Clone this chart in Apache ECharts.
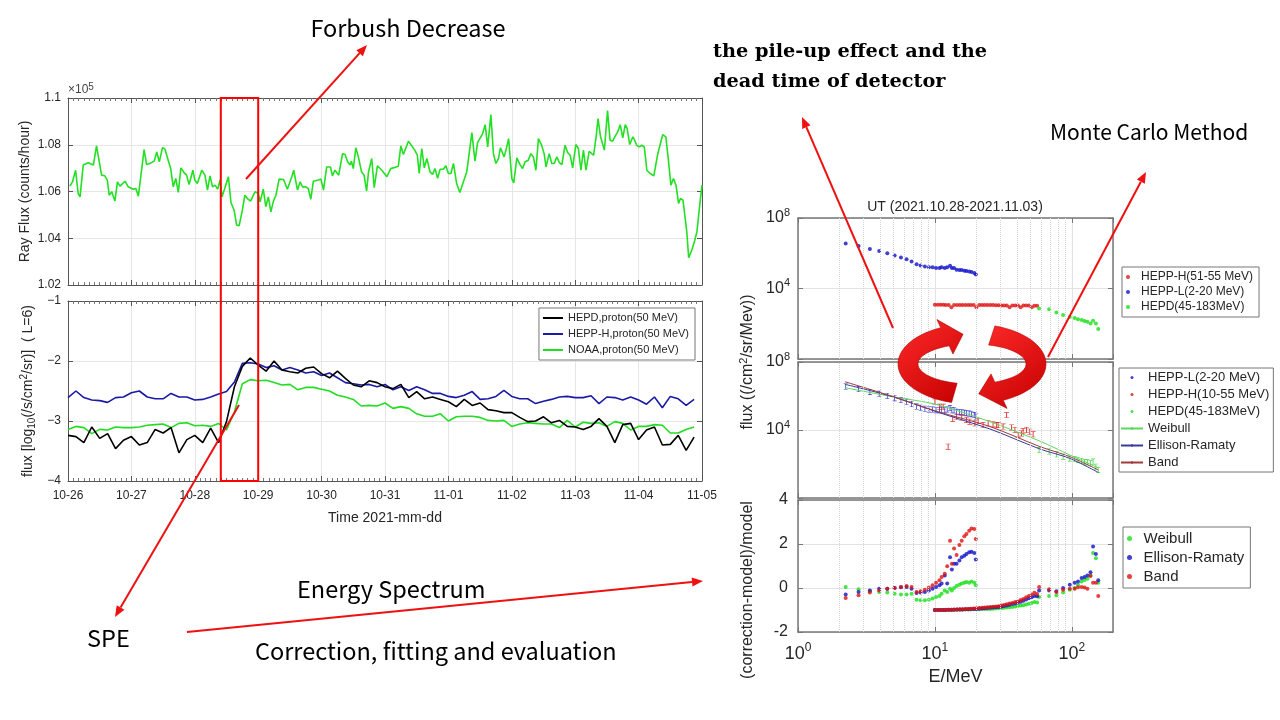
<!DOCTYPE html>
<html>
<head>
<meta charset="utf-8">
<title>Forbush decrease, SPE and energy spectrum</title>
<script src="https://cdn.jsdelivr.net/npm/echarts@6/dist/echarts.min.js"></script>
<style>
  html, body { margin: 0; padding: 0; background: #fff; }
  #main { width: 1280px; height: 720px; }
</style>
</head>
<body>
<div id="main"></div>
<script>
// ---------- time series (left) ----------
const dayLabels = ['10-26', '10-27', '10-28', '10-29', '10-30', '10-31', '11-01', '11-02', '11-03', '11-04', '11-05']
// ray flux, days since 10-26 00:00 and value in units of 10^5 counts/hour
const rayDays = [0.03, 0.07, 0.12, 0.16, 0.19, 0.24, 0.32, 0.40, 0.45, 0.53, 0.58, 0.62, 0.65, 0.69, 0.74, 0.78, 0.82, 0.90, 0.95,
  1.03, 1.07, 1.11, 1.20, 1.24, 1.29, 1.36, 1.40, 1.44, 1.49, 1.53, 1.58, 1.62, 1.66, 1.70, 1.74, 1.78, 1.83, 1.87, 1.91, 1.97,
  2.00, 2.04, 2.11, 2.16, 2.20, 2.24, 2.28, 2.32, 2.36, 2.40, 2.43, 2.48, 2.53, 2.57, 2.62, 2.66, 2.70, 2.75, 2.79, 2.83, 2.88, 2.95,
  3.00, 3.03, 3.08, 3.12, 3.16, 3.20, 3.24, 3.28, 3.33, 3.40, 3.43, 3.46, 3.53, 3.56, 3.62, 3.66, 3.70, 3.75, 3.79, 3.83, 3.87, 3.95, 3.99,
  4.03, 4.08, 4.14, 4.17, 4.21, 4.24, 4.27, 4.33, 4.37, 4.41, 4.45, 4.47, 4.50, 4.54, 4.58, 4.63, 4.67, 4.71, 4.74, 4.79, 4.83, 4.88, 4.95,
  5.03, 5.09, 5.13, 5.21, 5.25, 5.29, 5.37, 5.40, 5.47, 5.51, 5.54, 5.58, 5.62, 5.66, 5.71, 5.75, 5.79, 5.83, 5.87, 5.92, 5.96,
  6.00, 6.04, 6.08, 6.13, 6.18, 6.21, 6.29, 6.37, 6.42, 6.46, 6.49, 6.54, 6.58, 6.62, 6.67, 6.71, 6.75, 6.79, 6.82, 6.88, 6.92, 6.95,
  7.00, 7.03, 7.08, 7.13, 7.17, 7.21, 7.26, 7.30, 7.34, 7.38, 7.42, 7.47, 7.51, 7.54, 7.59, 7.63, 7.67, 7.71, 7.75, 7.79, 7.84, 7.88, 7.92, 7.96,
  8.01, 8.05, 8.09, 8.13, 8.17, 8.22, 8.24, 8.29, 8.33, 8.36, 8.40, 8.46, 8.51, 8.55, 8.59, 8.64, 8.67, 8.71, 8.75, 8.79, 8.82, 8.86, 8.91, 8.93, 8.97,
  9.01, 9.05, 9.09, 9.13, 9.18, 9.24, 9.30, 9.38, 9.43, 9.47, 9.51, 9.55, 9.59, 9.63, 9.66, 9.70, 9.76, 9.79, 9.84, 9.88, 9.92, 9.97, 10.00]
const rayFlux = [1.0623, 1.0641, 1.0691, 1.0592, 1.0577, 1.0713, 1.0723, 1.0713, 1.0795, 1.0670, 1.0667, 1.0649, 1.0584, 1.0599, 1.0559, 1.0641, 1.0623, 1.0644, 1.0620,
  1.0610, 1.0613, 1.0580, 1.0779, 1.0715, 1.0720, 1.0730, 1.0769, 1.0727, 1.0788, 1.0781, 1.0734, 1.0698, 1.0620, 1.0656, 1.0596, 1.0701, 1.0681, 1.0670, 1.0630, 1.0691,
  1.0649, 1.0634, 1.0691, 1.0670, 1.0606, 1.0667, 1.0620, 1.0627, 1.0610, 1.0649, 1.0577, 1.0620, 1.0663, 1.0553, 1.0520, 1.0456, 1.0454, 1.0520, 1.0584, 1.0570, 1.0559, 1.0599,
  1.0592, 1.0556, 1.0610, 1.0535, 1.0577, 1.0513, 1.0559, 1.0584, 1.0653, 1.0651, 1.0656, 1.0610, 1.0663, 1.0691, 1.0606, 1.0641, 1.0620, 1.0620, 1.0613, 1.0567, 1.0644, 1.0649, 1.0653,
  1.0606, 1.0705, 1.0705, 1.0667, 1.0691, 1.0698, 1.0670, 1.0762, 1.0758, 1.0727, 1.0713, 1.0730, 1.0698, 1.0787, 1.0748, 1.0684, 1.0670, 1.0602, 1.0684, 1.0741, 1.0616, 1.0710, 1.0691,
  1.0663, 1.0698, 1.0701, 1.0708, 1.0795, 1.0758, 1.0815, 1.0809, 1.0777, 1.0755, 1.0677, 1.0784, 1.0701, 1.0741, 1.0684, 1.0673, 1.0698, 1.0656, 1.0695, 1.0695, 1.0710,
  1.0677, 1.0677, 1.0720, 1.0634, 1.0596, 1.0592, 1.0684, 1.0852, 1.0730, 1.0809, 1.0805, 1.0848, 1.0886, 1.0791, 1.0929, 1.0762, 1.0720, 1.0741, 1.0787, 1.0748, 1.0791, 1.0826,
  1.0656, 1.0637, 1.0744, 1.0715, 1.0698, 1.0727, 1.0734, 1.0762, 1.0748, 1.0691, 1.0826, 1.0798, 1.0762, 1.0705, 1.0762, 1.0720, 1.0720, 1.0748, 1.0724, 1.0715, 1.0798, 1.0767, 1.0755, 1.0701,
  1.0801, 1.0784, 1.0691, 1.0777, 1.0691, 1.0772, 1.0777, 1.0755, 1.0834, 1.0912, 1.0834, 1.0777, 1.0946, 1.0819, 1.0815, 1.0841, 1.0855, 1.0886, 1.0829, 1.0886, 1.0869, 1.0801, 1.0834, 1.0824, 1.0798,
  1.0791, 1.0798, 1.0791, 1.0691, 1.0677, 1.0667, 1.0758, 1.0843, 1.0834, 1.0734, 1.0627, 1.0656, 1.0627, 1.0549, 1.0570, 1.0563, 1.0428, 1.0317, 1.0350, 1.0385, 1.0428, 1.0556, 1.0627]

// 50 MeV proton flux, log10(/s/cm2/sr), 3-hour samples from 10-26 00:00
const fluxStepDays = 0.125
const hepdProton = [-3.24, -3.26, -3.36, -3.10, -3.29, -3.21, -3.46, -3.32, -3.26, -3.40,
  -3.36, -3.14, -3.20, -3.11, -3.53, -3.31, -3.24, -3.36, -3.12, -3.36,
  -3.01, -2.43, -2.09, -1.95, -2.07, -2.17, -2.00, -2.15, -2.18, -2.20,
  -2.12, -2.10, -2.21, -2.28, -2.17, -2.29, -2.40, -2.43, -2.33, -2.36,
  -2.43, -2.46, -2.39, -2.61, -2.51, -2.63, -2.60, -2.64, -2.68, -2.76,
  -2.64, -2.74, -2.70, -2.81, -2.83, -2.86, -2.86, -2.94, -3.01, -3.00,
  -2.93, -3.03, -2.99, -3.09, -3.10, -3.14, -3.09, -2.96, -3.09, -3.36,
  -3.06, -3.04, -3.31, -3.15, -3.10, -3.40, -3.39, -3.24, -3.49, -3.27]
const heppHProton = [-2.61, -2.50, -2.61, -2.65, -2.66, -2.69, -2.61, -2.60, -2.53, -2.50,
  -2.60, -2.63, -2.63, -2.54, -2.60, -2.60, -2.65, -2.64, -2.60, -2.55,
  -2.51, -2.35, -2.04, -2.03, -2.05, -2.11, -2.08, -2.15, -2.11, -2.15,
  -2.20, -2.18, -2.24, -2.20, -2.28, -2.36, -2.38, -2.40, -2.39, -2.43,
  -2.39, -2.48, -2.43, -2.49, -2.43, -2.48, -2.54, -2.54, -2.59, -2.61,
  -2.57, -2.51, -2.64, -2.63, -2.59, -2.49, -2.59, -2.63, -2.63, -2.71,
  -2.67, -2.64, -2.60, -2.59, -2.61, -2.61, -2.58, -2.71, -2.60, -2.61,
  -2.65, -2.60, -2.65, -2.72, -2.60, -2.78, -2.59, -2.63, -2.74, -2.64]
const noaaProton = [-3.14, -3.09, -3.11, -3.21, -3.14, -3.15, -3.10, -3.11, -3.11, -3.10,
  -3.07, -3.06, -3.05, -3.11, -3.04, -3.03, -3.08, -3.07, -3.09, -3.04,
  -3.15, -2.85, -2.38, -2.31, -2.33, -2.32, -2.36, -2.40, -2.39, -2.48,
  -2.44, -2.44, -2.47, -2.50, -2.57, -2.60, -2.64, -2.75, -2.74, -2.75,
  -2.70, -2.79, -2.76, -2.79, -2.88, -2.92, -2.92, -2.88, -3.00, -2.93,
  -2.92, -2.92, -2.94, -2.99, -3.00, -2.99, -3.09, -3.05, -3.03, -3.04,
  -3.05, -3.05, -3.11, -2.99, -3.10, -3.02, -3.04, -3.03, -3.09, -3.01,
  -3.04, -3.15, -3.09, -3.09, -3.06, -3.07, -3.20, -3.20, -3.14, -3.10]
const speWindow = [2.41, 3.0] // days since 10-26

// ---------- energy spectra (right), E in MeV, flux in /cm2/sr/MeV ----------
const hepplE = [2.23, 2.77, 3.35, 3.92, 4.49, 5.08, 5.65, 6.21, 6.76, 7.35, 7.86, 8.45, 9.04, 9.62, 10.2, 10.8,
  11.2, 11.8, 12.3, 12.9, 13.3, 13.8, 14.4, 15.1, 15.7, 16.4, 17.0, 17.8, 18.5, 19.4, 19.9]
const hepplFlux = [3.63e6, 2.57e6, 1.74e6, 1.35e6, 1.0e6, 7.41e5, 5.75e5, 4.57e5, 3.39e5, 2.4e5, 2.04e5, 1.78e5, 1.62e5, 1.58e5, 1.45e5, 1.45e5,
  1.58e5, 1.45e5, 1.62e5, 1.95e5, 1.45e5, 1.45e5, 1.17e5, 1.12e5, 1.12e5, 1.02e5, 9.8e4, 9.3e4, 8.5e4, 7.6e4, 6.2e4]
const hepphE = [10.0, 10.5, 11.0, 11.5, 12.0, 12.6, 13.2, 13.8, 14.5, 15.2, 15.9, 16.7, 17.5, 18.3, 19.2, 20.1, 21.1, 22.1, 23.1,
  24.2, 25.4, 26.6, 27.9, 29.2, 30.6, 32.0, 33.5, 35.1, 36.8, 38.6, 40.4, 42.3, 44.3, 46.4, 48.6, 50.9, 53.3, 55.8]
const hepphFlux = [1200, 1200, 1190, 1180, 1150, 1150, 860, 1140, 1140, 1140, 1140, 1140, 1140, 1140, 1140, 860, 1140, 1140, 1150,
  1150, 1140, 1140, 1120, 1120, 1100, 1100, 1100, 860, 1100, 1080, 1080, 860, 1080, 1070, 1070, 860, 1060, 1060]
const hepdE = [57.7, 68.3, 77.2, 86.4, 96.7, 105, 111, 118, 124, 130, 137, 143, 150, 156]
const hepdFlux = [724, 661, 437, 316, 245, 209, 182, 162, 141, 129, 105, 148, 105, 50]

// corrected spectra and fits
const hepphCorrE = [10.0, 10.8, 11.5, 12.5, 13.5, 14.4, 15.7, 17.0, 18.0, 19.6, 20.7, 22.5, 24.5, 26.6, 28.2, 29.0,
  31.5, 33.4, 36.3, 38.4, 40.6, 42.9, 44.1, 46.7, 49.3, 52.2]
const hepphCorrFlux = [4.7e5, 2.3e5, 2.3e5, 1.05e3, 4.5e4, 6.0e4, 5.4e4, 3.9e4, 3.1e4, 2.5e4, 3.4e4, 1.95e4, 2.5e4, 2.2e4, 1.95e4, 1.95e4,
  1.6e4, 7.6e4, 1.4e4, 1.0e4, 5.1e3, 6.3e3, 8.7e3, 1.0e4, 7.9e3, 5.6e3]
const hepdCorrFlux = [661, 537, 372, 269, 214, 195, 174, 151, 126, 126, 110, 138, 69, 45]
const fitE = [2.2, 4.9, 10.2, 25.2, 58.6, 96.7, 156]
const weibullFit = [3.1e6, 9.1e5, 3.2e5, 3.1e4, 2.2e3, 339, 60]
const ellisonFit = [4.9e6, 9.1e5, 1.2e5, 1.15e4, 759, 214, 32]
const bandFit = [6.9e6, 9.5e5, 1.3e5, 1.6e4, 1.05e3, 269, 45]

// (correction-model)/model
const resHepplWeibull = [0.05, -0.06, -0.15, -0.18, -0.21, -0.26, -0.29, -0.29, -0.26, -0.53, -0.56, -0.56, -0.53, -0.48, -0.41, -0.36,
  -0.26, -0.11, -0.18, -0.03, -0.11, 0.00, 0.09, 0.15, 0.20, 0.24, 0.27, 0.24, 0.30, 0.24, 0.12]
const resHepplEllison = [-0.29, -0.18, -0.11, -0.03, -0.03, 0.00, 0.03, 0.05, -0.03, -0.23, -0.21, -0.18, -0.11, -0.03, 0.05, 0.12,
  0.20, 0.57, 0.20, 1.40, 0.84, 1.10, 1.10, 1.25, 1.40, 1.47, 1.55, 1.62, 1.65, 1.59, 1.29]
const resHepplBand = [-0.45, -0.33, -0.21, -0.11, -0.03, 0.00, 0.05, 0.09, 0.05, -0.18, -0.15, -0.08, 0.02, 0.12, 0.24, 0.35,
  0.50, 0.65, 0.99, 2.15, 1.10, 1.80, 1.50, 1.95, 2.15, 2.35, 2.45, 2.60, 2.71, 2.68, 2.23]
const resHepphWeibull = [-1.00, -1.00, -1.00, -1.00, -1.00, -1.00, -1.00, -0.99, -0.99, -0.99, -0.99, -0.98, -0.98, -0.98, -0.97, -0.97, -0.97, -0.96, -0.96,
  -0.95, -0.95, -0.94, -0.93, -0.92, -0.91, -0.90, -0.89, -0.88, -0.86, -0.84, -0.82, -0.80, -0.78, -0.75, -0.72, -0.68, -0.64, -0.66]
const resHepphEllison = [-1.00, -1.00, -1.00, -1.00, -1.00, -0.99, -0.99, -0.99, -0.98, -0.98, -0.98, -0.97, -0.97, -0.96, -0.95, -0.95, -0.94, -0.93, -0.92,
  -0.91, -0.90, -0.89, -0.88, -0.86, -0.84, -0.82, -0.79, -0.76, -0.73, -0.70, -0.66, -0.62, -0.58, -0.52, -0.47, -0.42, -0.36, -0.38]
const resHepphBand = [-1.00, -1.00, -1.00, -1.00, -0.99, -0.99, -0.99, -0.98, -0.98, -0.97, -0.97, -0.96, -0.95, -0.94, -0.93, -0.92, -0.91, -0.90, -0.89,
  -0.88, -0.86, -0.85, -0.84, -0.83, -0.80, -0.77, -0.74, -0.71, -0.68, -0.64, -0.61, -0.55, -0.50, -0.42, -0.36, -0.30, -0.22, -0.27]
const resHepdWeibull = [-0.41, -0.36, -0.33, -0.21, -0.08, 0.00, 0.15, 0.30, 0.36, 0.42, 0.57, 1.59, 1.35, 0.24]
const resHepdEllison = [-0.11, -0.11, -0.15, 0.00, 0.15, 0.24, 0.30, 0.45, 0.50, 0.57, 0.72, 1.89, 1.55, 0.35]
const resHepdBand = [0.05, -0.06, -0.18, -0.08, -0.03, -0.03, 0.03, 0.05, 0.02, -0.03, 0.54, 0.24, 0.24, -0.36]

// grid lines of the log energy axis between the decades
const minorE = [2, 3, 4, 5, 6, 7, 8, 9, 20, 30, 40, 50, 60, 70, 80, 90]

// ---------- helpers ----------
const FONT = 'Liberation Sans'
const TXT = '#262626'
const AX = '#555'
const RED = '#ee1111'
const zip = (xs, ys) => xs.map((x, i) => [x, ys[i]])
const steps = (ys) => ys.map((y, i) => [i * fluxStepDays, y])

function logLabel(v) {
  const l = Math.log10(v)
  const e = Math.round(l)
  if (Math.abs(l - e) > 1e-6) return ''
  return '10{sup|' + e + '}'
}

function dayAxis(gridIndex, position, labels) {
  return {
    type: 'value', gridIndex, position, min: 0, max: 10, interval: 1,
    axisLine: { show: true, onZero: false, lineStyle: { color: AX, width: 1 } },
    axisTick: { show: true, inside: true, length: 5, lineStyle: { color: AX } },
    minorTick: { show: true, splitNumber: 12, length: 3, lineStyle: { color: '#777' } },
    axisLabel: { show: labels, color: TXT, fontSize: 12, fontFamily: FONT, margin: 9, formatter: (v) => dayLabels[Math.round(v)] },
    splitLine: { show: position === 'bottom', lineStyle: { color: '#e6e6e6' } },
    name: labels ? 'Time 2021-mm-dd' : '', nameLocation: 'middle', nameGap: 30,
    nameTextStyle: { color: TXT, fontSize: 14, fontFamily: FONT },
  }
}

function leftValueAxis(gridIndex, position, min, max, interval, formatter, name) {
  return {
    type: 'value', gridIndex, position, min, max, interval,
    axisLine: { show: true, onZero: false, lineStyle: { color: AX, width: 1 } },
    axisTick: { show: true, inside: true, length: 5, lineStyle: { color: AX } },
    axisLabel: { show: position === 'left', color: TXT, fontSize: 12, fontFamily: FONT, margin: 7, formatter },
    splitLine: { show: position === 'left', lineStyle: { color: '#e6e6e6' } },
    name: position === 'left' ? name : '', nameLocation: 'middle', nameGap: 31,
    nameTextStyle: {
      color: TXT, fontSize: 14, fontFamily: FONT, lineHeight: 18,
      rich: {
        sub: { fontSize: 10, fontFamily: FONT, color: TXT, verticalAlign: 'bottom', lineHeight: 10 },
        sup: { fontSize: 10, fontFamily: FONT, color: TXT, verticalAlign: 'top', lineHeight: 10 },
      },
    },
  }
}

function energyAxis(gridIndex, position, labels) {
  return {
    type: 'log', logBase: 10, gridIndex, position, min: 1, max: 200,
    axisLine: { show: true, onZero: false, lineStyle: { color: '#777', width: 1.5 } },
    axisTick: { show: true, inside: true, length: 5, lineStyle: { color: '#777' } },
    axisLabel: {
      show: labels, color: TXT, fontSize: 18, fontFamily: FONT, margin: 10, lineHeight: 24,
      showMaxLabel: false, formatter: logLabel,
      rich: { sup: { fontSize: 12, fontFamily: FONT, color: TXT, verticalAlign: 'top', lineHeight: 12 } },
    },
    splitLine: { show: position === 'bottom', lineStyle: { color: '#e3e3e3' } },
  }
}

function fluxAxis(gridIndex, position) {
  return {
    type: 'log', logBase: 10, gridIndex, position, min: 1, max: 1e8, interval: 4,
    axisLine: { show: true, onZero: false, lineStyle: { color: '#777', width: 1.5 } },
    axisTick: { show: true, inside: true, length: 5, lineStyle: { color: '#777' } },
    axisLabel: {
      show: position === 'left', color: TXT, fontSize: 16, fontFamily: FONT, margin: 8, lineHeight: 22,
      formatter: (v) => (v <= 1 ? '' : logLabel(v)),
      rich: { sup: { fontSize: 11, fontFamily: FONT, color: TXT, verticalAlign: 'top', lineHeight: 11 } },
    },
    splitLine: { show: position === 'left', lineStyle: { color: '#e3e3e3' } },
  }
}

function residualAxis(gridIndex, position) {
  return {
    type: 'value', gridIndex, position, min: -2, max: 4, interval: 2,
    axisLine: { show: true, onZero: false, lineStyle: { color: '#777', width: 1.5 } },
    axisTick: { show: true, inside: true, length: 5, lineStyle: { color: '#777' } },
    axisLabel: { show: position === 'left', color: TXT, fontSize: 16, fontFamily: FONT, margin: 10 },
    splitLine: { show: position === 'left', lineStyle: { color: '#e3e3e3' } },
  }
}

// dotted vertical lines at 2..9, 20..90 MeV
function minorGridSeries(g) {
  return {
    type: 'line', data: [], xAxisIndex: 2 * g, yAxisIndex: 2 * g, silent: true, z: 1,
    markLine: {
      silent: true, symbol: 'none', animation: false, label: { show: false },
      lineStyle: { color: '#d4d4d4', type: 'dotted', width: 1 },
      data: minorE.map((e) => ({ xAxis: e })),
    },
  }
}

const ibeam = 'path://M0,0H5V1H3V9H5V10H0V9H2V1H0Z'

const chart = echarts.init(document.getElementById('main'))

chart.setOption({
  animation: false,
  backgroundColor: '#fff',
  textStyle: { fontFamily: FONT },
  grid: [
    { left: 68, top: 98, width: 634, height: 187, outerBoundsMode: 'none' },
    { left: 68, top: 301, width: 634, height: 180, outerBoundsMode: 'none' },
    { left: 798, top: 218, width: 315, height: 141, outerBoundsMode: 'none' },
    { left: 798, top: 362, width: 315, height: 136, outerBoundsMode: 'none' },
    { left: 798, top: 500, width: 315, height: 132, outerBoundsMode: 'none' },
  ],
  xAxis: [
    dayAxis(0, 'bottom', false), dayAxis(0, 'top', false),
    dayAxis(1, 'bottom', true), dayAxis(1, 'top', false),
    energyAxis(2, 'bottom', false), energyAxis(2, 'top', false),
    energyAxis(3, 'bottom', false), energyAxis(3, 'top', false),
    Object.assign(energyAxis(4, 'bottom', true), {
      name: 'E/MeV', nameLocation: 'middle', nameGap: 36,
      nameTextStyle: { color: TXT, fontSize: 18, fontFamily: FONT },
    }),
    energyAxis(4, 'top', false),
  ],
  yAxis: [
    leftValueAxis(0, 'left', 1.02, 1.1, 0.02, (v) => String(+v.toFixed(2)), 'Ray Flux (counts/hour)'),
    leftValueAxis(0, 'right', 1.02, 1.1, 0.02, null, ''),
    leftValueAxis(1, 'left', -4, -1, 1, (v) => String(v).replace('-', '\u2212'),
      'flux [log{sub|10}(/s/cm{sup|2}/sr)]  ( L=6)'),
    leftValueAxis(1, 'right', -4, -1, 1, null, ''),
    fluxAxis(2, 'left'), fluxAxis(2, 'right'),
    fluxAxis(3, 'left'), fluxAxis(3, 'right'),
    residualAxis(4, 'left'), residualAxis(4, 'right'),
  ],
  legend: [
    {
      data: [
        { name: 'HEPD,proton(50 MeV)', icon: 'rect' },
        { name: 'HEPP-H,proton(50 MeV)', icon: 'rect' },
        { name: 'NOAA,proton(50 MeV)', icon: 'rect' },
      ],
      orient: 'vertical', right: 585, top: 308, itemWidth: 20, itemHeight: 2, itemGap: 4,
      padding: [4, 6, 4, 4], backgroundColor: '#fff', borderColor: '#777', borderWidth: 1, borderRadius: 0,
      textStyle: { color: TXT, fontSize: 11, fontFamily: FONT, lineHeight: 12 },
    },
    {
      data: [
        { name: 'HEPP-H(51-55 MeV)', icon: 'circle' },
        { name: 'HEPP-L(2-20 MeV)', icon: 'circle' },
        { name: 'HEPD(45-183MeV)', icon: 'circle' },
      ],
      orient: 'vertical', left: 1122, top: 267, itemWidth: 16, itemHeight: 4, itemGap: 3,
      padding: [4, 6, 4, 4], backgroundColor: '#fff', borderColor: '#777', borderWidth: 1, borderRadius: 0,
      textStyle: { color: TXT, fontSize: 12, fontFamily: FONT },
    },
    {
      data: [
        { name: 'HEPP-L(2-20 MeV)', icon: 'circle' },
        { name: 'HEPP-H(10-55 MeV)', icon: 'circle' },
        { name: 'HEPD(45-183MeV)', icon: 'circle' },
        'Weibull fit', 'Ellison-Ramaty fit', 'Band fit',
      ],
      formatter: (n) => n.replace(' fit', ''),
      orient: 'vertical', left: 1119, top: 368, itemWidth: 22, itemHeight: 3, itemGap: 4,
      padding: [3, 4, 3, 1], backgroundColor: '#fff', borderColor: '#777', borderWidth: 1, borderRadius: 0,
      textStyle: { color: TXT, fontSize: 13, fontFamily: FONT },
    },
    {
      data: [
        { name: 'Weibull', icon: 'circle' },
        { name: 'Ellison-Ramaty', icon: 'circle' },
        { name: 'Band', icon: 'circle' },
      ],
      orient: 'vertical', left: 1123, top: 527, itemWidth: 18, itemHeight: 5, itemGap: 4,
      padding: [4, 6, 4, 4], backgroundColor: '#fff', borderColor: '#777', borderWidth: 1, borderRadius: 0,
      textStyle: { color: TXT, fontSize: 15, fontFamily: FONT },
    },
  ],
  series: [
    // ray flux
    {
      name: 'Ray Flux', type: 'line', xAxisIndex: 0, yAxisIndex: 0, data: zip(rayDays, rayFlux),
      symbol: 'none', lineStyle: { color: '#22e022', width: 1.6 }, itemStyle: { color: '#22e022' },
    },
    // 50 MeV protons
    {
      name: 'HEPP-H,proton(50 MeV)', type: 'line', xAxisIndex: 2, yAxisIndex: 2, data: steps(heppHProton),
      symbol: 'none', lineStyle: { color: '#1a1aa6', width: 1.6 }, itemStyle: { color: '#1a1aa6' },
    },
    {
      name: 'NOAA,proton(50 MeV)', type: 'line', xAxisIndex: 2, yAxisIndex: 2, data: steps(noaaProton),
      symbol: 'none', lineStyle: { color: '#22dd22', width: 1.6 }, itemStyle: { color: '#22dd22' },
    },
    {
      name: 'HEPD,proton(50 MeV)', type: 'line', xAxisIndex: 2, yAxisIndex: 2, data: steps(hepdProton),
      symbol: 'none', lineStyle: { color: '#000', width: 1.6 }, itemStyle: { color: '#000' },
    },

    // raw spectra
    minorGridSeries(2),
    {
      name: 'HEPP-L(2-20 MeV)', type: 'scatter', xAxisIndex: 4, yAxisIndex: 4, data: zip(hepplE, hepplFlux),
      symbolSize: 4, itemStyle: { color: '#1010c8' },
    },
    {
      name: 'HEPP-H(51-55 MeV)', type: 'scatter', xAxisIndex: 4, yAxisIndex: 4, data: zip(hepphE, hepphFlux),
      symbolSize: 4, itemStyle: { color: '#e01010' },
    },
    {
      name: 'HEPD(45-183MeV)', type: 'scatter', xAxisIndex: 4, yAxisIndex: 4, data: zip(hepdE, hepdFlux),
      symbolSize: 4, itemStyle: { color: '#18e018' },
    },

    // corrected spectra with fits
    minorGridSeries(3),
    {
      name: 'HEPP-L(2-20 MeV)', type: 'scatter', xAxisIndex: 6, yAxisIndex: 6, data: zip(hepplE, hepplFlux),
      symbol: ibeam, symbolSize: [4, 6], itemStyle: { color: '#1010c8' },
    },
    {
      name: 'HEPP-H(10-55 MeV)', type: 'scatter', xAxisIndex: 6, yAxisIndex: 6, data: zip(hepphCorrE, hepphCorrFlux),
      symbol: ibeam, symbolSize: [5, 6], itemStyle: { color: '#d81010' },
    },
    {
      name: 'HEPD(45-183MeV)', type: 'scatter', xAxisIndex: 6, yAxisIndex: 6, data: zip(hepdE, hepdCorrFlux),
      symbol: ibeam, symbolSize: [4, 6], itemStyle: { color: '#18d018' },
    },
    {
      name: 'Weibull fit', type: 'line', xAxisIndex: 6, yAxisIndex: 6, data: zip(fitE, weibullFit), smooth: 0.3,
      symbol: 'none', lineStyle: { color: '#5cd65c', width: 1 }, itemStyle: { color: '#5cd65c' },
    },
    {
      name: 'Ellison-Ramaty fit', type: 'line', xAxisIndex: 6, yAxisIndex: 6, data: zip(fitE, ellisonFit), smooth: 0.3,
      symbol: 'none', lineStyle: { color: '#3a3a9a', width: 1 }, itemStyle: { color: '#3a3a9a' },
    },
    {
      name: 'Band fit', type: 'line', xAxisIndex: 6, yAxisIndex: 6, data: zip(fitE, bandFit), smooth: 0.3,
      symbol: 'none', lineStyle: { color: '#a03a3a', width: 1 }, itemStyle: { color: '#a03a3a' },
    },

    // residuals
    minorGridSeries(4),
    {
      name: 'Weibull', type: 'scatter', xAxisIndex: 8, yAxisIndex: 8, symbolSize: 4, itemStyle: { color: '#18e018' },
      data: [...zip(hepplE, resHepplWeibull), ...zip(hepphE, resHepphWeibull), ...zip(hepdE, resHepdWeibull)],
    },
    {
      name: 'Ellison-Ramaty', type: 'scatter', xAxisIndex: 8, yAxisIndex: 8, symbolSize: 4, itemStyle: { color: '#1010c8' },
      data: [...zip(hepplE, resHepplEllison), ...zip(hepphE, resHepphEllison), ...zip(hepdE, resHepdEllison)],
    },
    {
      name: 'Band', type: 'scatter', xAxisIndex: 8, yAxisIndex: 8, symbolSize: 4, itemStyle: { color: '#e01010' },
      data: [...zip(hepplE, resHepplBand), ...zip(hepphE, resHepphBand), ...zip(hepdE, resHepdBand)],
    },
  ],
})

// ---------- annotations ----------
function arrow(x1, y1, x2, y2) {
  const a = Math.atan2(y2 - y1, x2 - x1)
  const L = 11, W = 4.5
  const bx = x2 - L * Math.cos(a), by = y2 - L * Math.sin(a)
  return [
    { type: 'line', z: 50, shape: { x1, y1, x2: bx, y2: by }, style: { stroke: RED, lineWidth: 2 } },
    {
      type: 'polygon', z: 50,
      shape: { points: [[x2, y2], [bx + W * Math.sin(a), by - W * Math.cos(a)], [bx - W * Math.sin(a), by + W * Math.cos(a)]] },
      style: { fill: RED },
    },
  ]
}

function cycleArrow(cx, cy, rx, ry, a0, a1, aTip) {
  const half = 10, head = 19, n = 30, pts = []
  const P = (deg, d) => [cx + (rx + d) * Math.cos(deg * Math.PI / 180), cy + (ry + d) * Math.sin(deg * Math.PI / 180)]
  for (let i = 0; i <= n; i++) pts.push(P(a0 + (a1 - a0) * i / n, half))
  pts.push(P(a1, head), P(aTip, 0), P(a1, -head))
  for (let i = n; i >= 0; i--) pts.push(P(a0 + (a1 - a0) * i / n, -half))
  return {
    type: 'polygon', z: 60, shape: { points: pts },
    style: {
      fill: new echarts.graphic.LinearGradient(0, 0, 1, 1, [
        { offset: 0, color: '#ff2a2a' }, { offset: 1, color: '#c40000' },
      ]),
      stroke: '#b00000', lineWidth: 0.6,
    },
  }
}

function label(text, x, y, opts) {
  return {
    type: 'text', z: 70, x, y, rotation: (opts && opts.rotation) || 0,
    style: Object.assign({
      text, fill: '#000', fontSize: 23.5, fontFamily: 'Noto Sans CJK SC',
      align: 'left', verticalAlign: 'middle', textAlign: 'left', textVerticalAlign: 'middle',
    }, opts && opts.style),
  }
}

const boxX0 = chart.convertToPixel({ xAxisIndex: 0 }, speWindow[0])
const boxX1 = chart.convertToPixel({ xAxisIndex: 0 }, speWindow[1])
const boxY0 = chart.convertToPixel({ yAxisIndex: 0 }, 1.1)
const boxY1 = chart.convertToPixel({ yAxisIndex: 2 }, -4)

const centered = { align: 'center', textAlign: 'center' }
const supRich = {
  sup: { fontSize: 10, fontFamily: FONT, fill: '#444', verticalAlign: 'top', lineHeight: 10 },
}

chart.setOption({
  graphic: [
    {
      type: 'rect', z: 40, shape: { x: boxX0, y: boxY0, width: boxX1 - boxX0, height: boxY1 - boxY0 },
      style: { fill: 'none', stroke: '#ff0000', lineWidth: 2 },
    },
    ...arrow(246, 179, 367, 45),
    ...arrow(239, 405, 115, 617),
    ...arrow(187, 632, 703, 581),
    ...arrow(893, 328, 802, 117),
    ...arrow(1048, 357, 1146, 172),
    cycleArrow(972, 364, 64, 30, 106, 245, 262),
    cycleArrow(972, 364, 64, 30, 288, 425, 444),

    label('Forbush Decrease', 408, 28, { style: centered }),
    label('the pile-up effect and the', 713, 52, { style: { fontFamily: 'DejaVu Serif', fontSize: 19.3, fontWeight: 'bold' } }),
    label('dead time of detector', 713, 82, { style: { fontFamily: 'DejaVu Serif', fontSize: 19.3, fontWeight: 'bold' } }),
    label('Monte Carlo Method', 1050, 132, { style: { fontSize: 21 } }),
    label('Energy Spectrum', 297, 589),
    label('SPE', 87, 638),
    label('Correction, fitting and evaluation', 255, 651),

    label('\u00d710{sup|5}', 68, 90, {
      style: { fontSize: 12, fontFamily: FONT, fill: '#444', lineHeight: 16, rich: supRich },
    }),
    label('UT (2021.10.28-2021.11.03)', 955, 207, {
      style: Object.assign({ fontSize: 14, fontFamily: FONT, fill: TXT }, centered),
    }),
    label('flux ((/cm{sup|2}/sr/Mev))', 748, 362, {
      rotation: Math.PI / 2,
      style: Object.assign({ fontSize: 16, fontFamily: FONT, fill: TXT, lineHeight: 20, rich: {
        sup: { fontSize: 11, fontFamily: FONT, fill: TXT, verticalAlign: 'top', lineHeight: 11 },
      } }, centered),
    }),
    label('(correction-model)/model', 748, 590, {
      rotation: Math.PI / 2,
      style: Object.assign({ fontSize: 16, fontFamily: FONT, fill: TXT }, centered),
    }),
  ],
})
</script>
</body>
</html>
